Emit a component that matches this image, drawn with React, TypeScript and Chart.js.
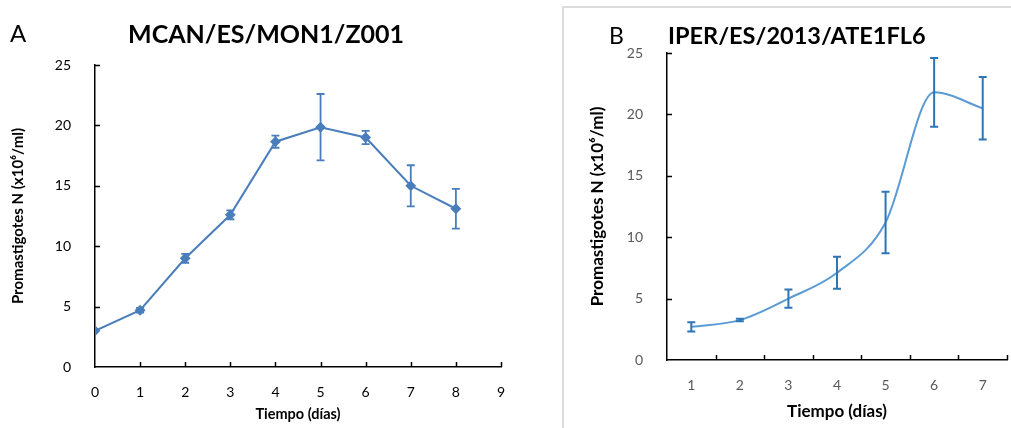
import React, { useEffect, useRef } from "react";
import { Chart, registerables } from "chart.js";

Chart.register(...registerables);

// ---------- data ----------
const daysA = [0, 1, 2, 3, 4, 5, 6, 7, 8];
const meanA = [3.0, 4.7, 9.0, 12.6, 18.65, 19.85, 19.0, 15.0, 13.1];
const errA = [0, 0.2, 0.37, 0.37, 0.5, 2.75, 0.55, 1.7, 1.65];

const daysB = ["1", "2", "3", "4", "5", "6", "7"];
const meanB = [2.7, 3.25, 5.0, 7.1, 11.2, 21.8, 20.5];
const errB = [0.38, 0.1, 0.75, 1.3, 2.5, 2.8, 2.55];

const yTickValues = [5, 10, 15, 20, 25];
const xTickValuesA = [1, 2, 3, 4, 5, 6, 7, 8, 9];
const xBoundaryValuesB = [0.5, 1.5, 2.5, 3.5, 4.5, 5.5, 6.5];

const titleA = "MCAN/ES/MON1/Z001";
const titleB = "IPER/ES/2013/ATE1FL6";
const yTitle = "Promastigotes N (x10\u2076/ml)";
const xTitle = "Tiempo (días)";

const FONT = "Lato, 'Open Sans', sans-serif";

// ---------- plugins ----------
const errorBarPlugin = {
  id: "errorBars",
  afterDatasetsDraw(chart: any) {
    const ctx = chart.ctx;
    chart.data.datasets.forEach((ds: any, di: number) => {
      const errs: number[] | undefined = ds.errors;
      if (!errs) return;
      const meta = chart.getDatasetMeta(di);
      const yScale = chart.scales[meta.yAxisID];
      ctx.save();
      ctx.strokeStyle = ds.errorColor;
      ctx.lineWidth = ds.errorWidth;
      const cap = ds.errorCap;
      meta.data.forEach((el: any, i: number) => {
        const e = errs[i];
        if (!e) return;
        const raw = ds.data[i];
        const v = typeof raw === "number" ? raw : raw.y;
        const x = el.x;
        const yT = yScale.getPixelForValue(v + e);
        const yB = yScale.getPixelForValue(v - e);
        ctx.beginPath();
        ctx.moveTo(x, yT);
        ctx.lineTo(x, yB);
        ctx.moveTo(x - cap, yT);
        ctx.lineTo(x + cap, yT);
        ctx.moveTo(x - cap, yB);
        ctx.lineTo(x + cap, yB);
        ctx.stroke();
      });
      ctx.restore();
    });
  },
};

const innerTicksPlugin = {
  id: "innerTicks",
  afterDraw(chart: any, _args: any, opts: any) {
    const ctx = chart.ctx;
    const xs = chart.scales.x;
    const ys = chart.scales.y;
    const len = opts.length || 5;
    ctx.save();
    ctx.strokeStyle = opts.color || "#000";
    ctx.lineWidth = opts.width || 1.5;
    ctx.beginPath();
    (opts.x || []).forEach((v: number) => {
      const px = Math.round(xs.getPixelForValue(v)) + 0.5;
      ctx.moveTo(px, xs.top);
      ctx.lineTo(px, xs.top - len);
    });
    (opts.y || []).forEach((v: number) => {
      const py = Math.round(ys.getPixelForValue(v)) + 0.5;
      ctx.moveTo(ys.right, py);
      ctx.lineTo(ys.right + len, py);
    });
    ctx.stroke();
    ctx.restore();
  },
};

// ---------- chart A ----------
function ChartA() {
  const ref = useRef<HTMLCanvasElement | null>(null);
  useEffect(() => {
    if (!ref.current) return;
    const chart = new Chart(ref.current, {
      type: "line",
      data: {
        datasets: [
          {
            data: daysA.map((d, i) => ({ x: d, y: meanA[i] })),
            borderColor: "#4A7EBB",
            backgroundColor: "#4A7EBB",
            borderWidth: 2,
            pointStyle: "rectRot",
            pointRadius: 4,
            pointBackgroundColor: "#4A7EBB",
            pointBorderColor: "#4A7EBB",
            tension: 0,
            errors: errA,
            errorColor: "#4A7EBB",
            errorWidth: 1.8,
            errorCap: 4,
          } as any,
        ],
      },
      options: {
        animation: false,
        responsive: false,
        events: [],
        layout: { padding: { top: 65, right: 44, left: 0, bottom: 0 } },
        plugins: {
          legend: { display: false },
          tooltip: { enabled: false },
          title: { display: false },
          innerTicks: { x: xTickValuesA, y: yTickValues, length: 5, width: 1.5 },
        } as any,
        scales: {
          x: {
            type: "linear",
            min: 0,
            max: 9,
            afterFit: (s: any) => {
              s.height = 61;
            },
            ticks: {
              stepSize: 1,
              padding: 9,
              color: "#000",
              font: { family: FONT, size: 14 },
            },
            grid: { display: false },
            border: { display: true, color: "#000", width: 1.5 },
            title: {
              display: true,
              text: xTitle,
              color: "#000",
              font: { family: FONT, size: 14.5, weight: "bold" },
              padding: { top: 0, bottom: 5 },
            },
          },
          y: {
            min: 0,
            max: 25,
            afterFit: (s: any) => {
              s.width = 95;
            },
            ticks: {
              stepSize: 5,
              padding: 16,
              color: "#000",
              font: { family: FONT, size: 14 },
            },
            grid: { display: false },
            border: { display: true, color: "#000", width: 1.5 },
            title: {
              display: true,
              text: yTitle,
              color: "#000",
              font: { family: FONT, size: 15, weight: "bold" },
              padding: { top: 9, bottom: 0 },
            },
          },
        },
      },
      plugins: [errorBarPlugin, innerTicksPlugin],
    } as any);
    return () => chart.destroy();
  }, []);
  return (
    <canvas
      ref={ref}
      width={545}
      height={428}
      style={{ position: "absolute", left: 0, top: 0, width: 545, height: 428 }}
    />
  );
}

// ---------- chart B ----------
function ChartB() {
  const ref = useRef<HTMLCanvasElement | null>(null);
  useEffect(() => {
    if (!ref.current) return;
    const chart = new Chart(ref.current, {
      type: "line",
      data: {
        labels: daysB,
        datasets: [
          {
            data: meanB,
            borderColor: "#5B9BD5",
            backgroundColor: "#5B9BD5",
            borderWidth: 2,
            pointRadius: 0,
            cubicInterpolationMode: "monotone",
            errors: errB,
            errorColor: "#2E75B6",
            errorWidth: 2,
            errorCap: 4,
          } as any,
        ],
      },
      options: {
        animation: false,
        responsive: false,
        events: [],
        layout: { padding: { top: 44, right: 4, left: 0, bottom: 0 } },
        plugins: {
          legend: { display: false },
          tooltip: { enabled: false },
          title: { display: false },
          innerTicks: { x: xBoundaryValuesB, y: yTickValues, length: 5, width: 1.5 },
        } as any,
        scales: {
          x: {
            type: "category",
            offset: true,
            afterFit: (s: any) => {
              s.height = 68;
            },
            ticks: {
              padding: 9,
              color: "#595959",
              font: { family: FONT, size: 14 },
            },
            grid: { display: false, offset: true },
            border: { display: true, color: "#000", width: 1.5 },
            title: {
              display: true,
              text: xTitle,
              color: "#000",
              font: { family: FONT, size: 17, weight: "bold" },
              padding: { top: 0, bottom: 6 },
            },
          },
          y: {
            min: 0,
            max: 25,
            afterFit: (s: any) => {
              s.width = 102;
            },
            ticks: {
              stepSize: 5,
              padding: 16,
              color: "#595959",
              font: { family: FONT, size: 14 },
            },
            grid: { display: false },
            border: { display: true, color: "#000", width: 1.5 },
            title: {
              display: true,
              text: yTitle,
              color: "#000",
              font: { family: FONT, size: 17, weight: "bold" },
              padding: { top: 22, bottom: 0 },
            },
          },
        },
      },
      plugins: [errorBarPlugin, innerTicksPlugin],
    } as any);
    return () => chart.destroy();
  }, []);
  return (
    <canvas
      ref={ref}
      width={446}
      height={419}
      style={{ position: "absolute", left: 565, top: 9, width: 446, height: 419 }}
    />
  );
}

const textBase: React.CSSProperties = {
  position: "absolute",
  fontFamily: FONT,
  lineHeight: 1,
  color: "#000",
  whiteSpace: "nowrap",
  margin: 0,
};

export default function App() {
  return (
    <div
      style={{
        position: "fixed",
        left: 0,
        top: 0,
        width: 1011,
        height: 428,
        background: "#fff",
        overflow: "hidden",
      }}
    >
      <div
        style={{
          position: "absolute",
          left: 562,
          top: 6,
          width: 470,
          height: 440,
          borderTop: "2px solid #dcdcdc",
          borderLeft: "2px solid #dcdcdc",
          boxSizing: "border-box",
        }}
      />
      <ChartA />
      <ChartB />
      <div style={{ ...textBase, left: 10, top: 21, fontSize: 24 }}>A</div>
      <div style={{ ...textBase, left: 128, top: 21, fontSize: 25, fontWeight: 700 }}>{titleA}</div>
      <div style={{ ...textBase, left: 609, top: 24, fontSize: 23 }}>B</div>
      <div style={{ ...textBase, left: 668, top: 24, fontSize: 23.5, fontWeight: 700 }}>{titleB}</div>
    </div>
  );
}
